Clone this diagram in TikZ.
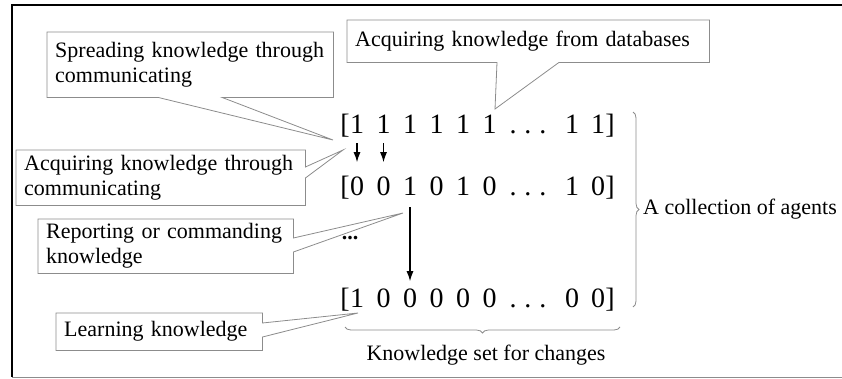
\documentclass[tikz,border=0pt]{standalone}
\usepackage{fontspec}
\newfontfamily\timesfont{Liberation Serif}
\usetikzlibrary{arrows.meta,decorations.pathreplacing}
\definecolor{boxgray}{RGB}{140,140,140}

\begin{document}
\begin{tikzpicture}[x=1pt,y=-1pt,>={Latex[length=10pt,width=7pt]},
	every node/.style={inner sep=0pt},
	callbox/.style={font=\timesfont\fontsize{22}{25}\selectfont,align=left,inner xsep=8pt,inner ysep=3pt,anchor=north west},
	callline/.style={draw=boxgray,line width=0.8pt},
	digit/.style={font=\timesfont\fontsize{28}{30}\selectfont,anchor=base},
	textlabel/.style={font=\timesfont\fontsize{22}{25}\selectfont},
	graybrace/.style={draw=boxgray,line width=0.8pt,decorate,decoration={brace,amplitude=6pt}}]
	 \useasboundingbox (0,0) rectangle (842,378);
	 % frame
	 \draw[line width=1.5pt] (842,5) -- (12,5) -- (12,377);
	 \draw[boxgray,line width=1pt] (12,377) -- (842,377);

	 % the three rows of agents
	 \foreach \x/\v [count=\i] in {357/1,383.5/1,410/1,436.5/1,463/1,489.5/1,572/1,598/1}
	   \node[digit] (a\i) at (\x,133) {\v};
	 \foreach \x/\v [count=\i] in {357/0,383.5/0,410/1,436.5/0,463/1,489.5/0,572/1,598/0}
	   \node[digit] (b\i) at (\x,195) {\v};
	 \foreach \x/\v [count=\i] in {357/1,383.5/0,410/0,436.5/0,463/0,489.5/0,572/0,598/0}
	   \node[digit] (c\i) at (\x,307) {\v};
	 \foreach \r/\y in {a/133,b/195,c/307} {
	   \node[digit] (\r open) at (345,\y) {[};
	   \node[digit] (\r dots) at (528,\y) {.\hspace{8pt}.\hspace{8pt}.};
	   \node[digit] (\r close) at (610,\y) {]};
	 }
	 \node[textlabel] (middots) at (350,238) {\textbf{...}};

	 \draw[->,line width=1.2pt,shorten <=10pt,shorten >=14pt] (a1) -- (b1);
	 \draw[->,line width=1.2pt,shorten <=10pt,shorten >=14pt] (a2) -- (b2);
	 \draw[->,line width=1.2pt,shorten <=12pt,shorten >=7pt] (b3) -- (c3);

	 % braces
	 \draw[graybrace] (633,112) -- (633,307);
	 \draw[graybrace] (620,327) -- (345,327);
	 \node[textlabel,anchor=west] (agents) at (643,209) {A collection of agents};
	 \node[textlabel] (changes) at (486,355) {Knowledge set for changes};

	 % callouts
	 \node[callbox,text width=270pt,minimum height=65pt] (spread) at (47,32) {Spreading knowledge through\\communicating};
	 \coordinate (spreadtip) at (333,140);
	 \draw[callline] (spread.south -| 158,0) -- (spread.south west) -- (spread.north west) -- (spread.north east) -- (spread.south east) -- (spread.south -| 222,0) -- (spreadtip) -- cycle;

	 \node[callbox,text width=346pt,minimum height=42pt] (dbase) at (347,20) {Acquiring knowledge from databases};
	 \coordinate (dbasetip) at (495,109);
	 \draw[callline] (dbase.south -| 497,0) -- (dbase.south west) -- (dbase.north west) -- (dbase.north east) -- (dbase.south east) -- (dbase.south -| 559,0) -- (dbasetip) -- cycle;

	 \node[callbox,text width=273pt,minimum height=55pt] (acq) at (16,150) {Acquiring knowledge through\\communicating};
	 \coordinate (acqtip) at (343,150);
	 \draw[callline] (acq.east |- 0,167) -- (acq.north east) -- (acq.north west) -- (acq.south west) -- (acq.south east) -- (acq.east |- 0,178) -- (acqtip) -- cycle;

	 \node[callbox,text width=239pt,minimum height=54pt] (report) at (38,219) {Reporting or commanding\\knowledge};
	 \coordinate (reporttip) at (403,213);
	 \draw[callline] (report.east |- 0,238) -- (report.north east) -- (report.north west) -- (report.south west) -- (report.south east) -- (report.east |- 0,252) -- (reporttip) -- cycle;

	 \node[callbox,text width=190pt,minimum height=37pt] (learn) at (56,313) {Learning knowledge};
	 \coordinate (learntip) at (358,313);
	 \draw[callline] (learn.east |- 0,323) -- (learn.north east) -- (learn.north west) -- (learn.south west) -- (learn.south east) -- (learn.east |- 0,337) -- (learntip) -- cycle;
\end{tikzpicture}
\end{document}
